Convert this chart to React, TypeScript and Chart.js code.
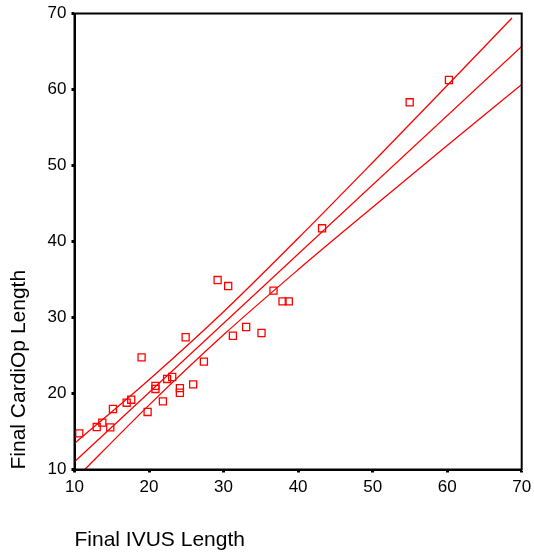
import React, { useEffect, useRef } from "react";
import { Chart, registerables } from "chart.js";

Chart.register(...registerables);

// Observed points (Final IVUS Length, Final CardiOp Length)
const ivusX = [10.64, 12.98, 13.73, 14.8, 15.16, 17.0, 17.61, 19.0, 19.81, 20.86, 20.86, 21.86, 22.43, 23.11, 24.14, 24.14, 24.91, 25.92, 27.36, 29.2, 30.62, 31.25, 33.03, 35.09, 36.7, 37.91, 38.75, 43.22, 54.97, 60.24];
const cardiOpY = [14.76, 15.59, 16.16, 15.55, 17.96, 18.79, 19.18, 24.76, 17.57, 21.0, 20.6, 18.97, 21.91, 22.17, 20.7, 20.1, 27.4, 21.2, 24.2, 34.93, 34.14, 27.6, 28.75, 27.96, 33.53, 32.13, 32.13, 41.74, 58.32, 61.25];

// Fit line and confidence band
const fitX = [10, 70];
const fitY = [11.03, 65.67];
const upperX = [10, 20, 30, 40, 50, 60, 68.7];
const upperY = [13.43, 21.81, 30.76, 40.42, 50.4, 60.52, 69.4];
const lowerX = [10, 20, 30, 40, 50, 60, 70];
const lowerY = [8.63, 18.47, 27.72, 36.28, 44.5, 52.62, 60.67];

const xTicks = [10, 20, 30, 40, 50, 60, 70];
const yTicks = [10, 20, 30, 40, 50, 60, 70];

const RED = "rgb(255,0,0)";
const FONT = "'Liberation Sans', Arial, sans-serif";

const toPts = (xs: number[], ys: number[]) => xs.map((x, i) => ({ x, y: ys[i] }));

const boxPlugin = {
  id: "box",
  afterDraw(chart: any) {
    const { ctx, chartArea: a } = chart;
    ctx.save();
    ctx.strokeStyle = "#000";
    ctx.lineWidth = 2;
    ctx.strokeRect(a.left, a.top, a.right - a.left, a.bottom - a.top);
    ctx.restore();
  },
};

export default function App() {
  const ref = useRef<HTMLCanvasElement>(null);
  useEffect(() => {
    document.body.style.margin = "0";
    const lineDs = (data: any) => ({
      type: "line" as const,
      data,
      borderColor: RED,
      borderWidth: 1.3,
      pointRadius: 0,
      fill: false,
      tension: 0.3,
      cubicInterpolationMode: "monotone" as const,
    });
    const chart = new Chart(ref.current!, {
      type: "scatter",
      data: {
        datasets: [
          lineDs(toPts(upperX, upperY)),
          lineDs(toPts(fitX, fitY)),
          lineDs(toPts(lowerX, lowerY)),
          {
            type: "scatter",
            data: toPts(ivusX, cardiOpY),
            pointStyle: "rect",
            pointRadius: 5,
            borderColor: RED,
            borderWidth: 1.3,
            backgroundColor: "rgba(255,255,255,0)",
          } as any,
        ],
      },
      options: {
        animation: false,
        responsive: false,
        devicePixelRatio: 1,
        layout: { padding: { top: 13.5, right: 12.3, left: 0, bottom: 0 } },
        plugins: { legend: { display: false }, tooltip: { enabled: false } },
        scales: {
          x: {
            type: "linear",
            min: 10,
            max: 70,
            afterBuildTicks: (s: any) => {
              s.ticks = xTicks.map((v) => ({ value: v }));
            },
            afterFit: (s: any) => {
              s.height = 84.5;
              s.paddingLeft = 0;
              s.paddingRight = 0;
            },
            ticks: { color: "#000", font: { family: FONT, size: 17 }, padding: 5 },
            grid: { display: true, drawOnChartArea: false, drawTicks: true, tickLength: 3, tickWidth: 3, color: "#000" },
            border: { display: true, color: "#000", width: 2 },
            title: {
              display: true,
              text: "Final IVUS Length",
              align: "start",
              color: "#000",
              font: { family: FONT, size: 21 },
              padding: { top: 0, bottom: 1 },
            },
          },
          y: {
            type: "linear",
            min: 10,
            max: 70,
            afterBuildTicks: (s: any) => {
              s.ticks = yTicks.map((v) => ({ value: v }));
            },
            afterFit: (s: any) => {
              s.width = 74.5;
              s.paddingTop = 0;
              s.paddingBottom = 0;
            },
            ticks: { color: "#000", font: { family: FONT, size: 17 }, padding: 5 },
            grid: { display: true, drawOnChartArea: false, drawTicks: true, tickLength: 3, tickWidth: 3, color: "#000" },
            border: { display: true, color: "#000", width: 2 },
            title: {
              display: true,
              text: "Final CardiOp Length",
              align: "start",
              color: "#000",
              font: { family: FONT, size: 21 },
              padding: { top: 7, bottom: 0 },
            },
          },
        },
      },
      plugins: [boxPlugin],
    });
    return () => chart.destroy();
  }, []);
  return (
    <div style={{ width: 534, height: 554 }}>
      <canvas ref={ref} width={534} height={554} style={{ display: "block" }} />
    </div>
  );
}
